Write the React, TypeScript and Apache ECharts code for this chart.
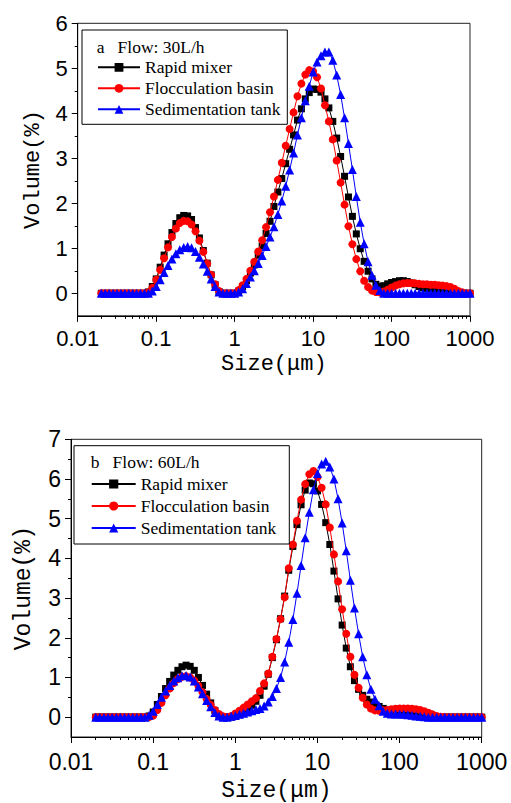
import React, { useEffect, useRef } from "react";
import * as echarts from "echarts";

// Particle size classes (µm)
const sizes = [
  0.02, 0.0224, 0.0252, 0.0283, 0.0317, 0.0356, 0.0399, 0.0448, 0.0502, 0.0564, 0.0632, 0.071, 0.0796, 0.0893,
  0.1002, 0.1125, 0.1262, 0.1416, 0.1589, 0.1783, 0.2, 0.2244, 0.2518, 0.2825, 0.317, 0.3557, 0.3991, 0.4477, 0.5024, 0.5637, 0.6325, 0.7096, 0.7962, 0.8934,
  1.002, 1.125, 1.262, 1.416, 1.589, 1.783, 2.0, 2.244, 2.518, 2.825, 3.17, 3.557, 3.991, 4.477, 5.024, 5.637, 6.325, 7.096, 7.962, 8.934,
  10.02, 11.25, 12.62, 14.16, 15.89, 17.83, 20.0, 22.44, 25.18, 28.25, 31.7, 35.57, 39.91, 44.77, 50.24, 56.37, 63.25, 70.96, 79.62, 89.34,
  100.2, 112.5, 126.2, 141.6, 158.9, 178.3, 200.0, 224.4, 251.8, 282.5, 317.0, 355.7, 399.1, 447.7, 502.4, 563.7, 632.5, 709.6, 796.2, 893.4,
  1002,
];

const seriesNames = ["Rapid mixer", "Flocculation basin", "Sedimentation tank"];

// Panel a: Flow 30 L/h
const aRapid = [
  0, 0, 0, 0, 0, 0, 0, 0, 0, 0, 0, 0, 0.03, 0.15,
  0.32, 0.58, 0.85, 1.1, 1.35, 1.55, 1.68, 1.73, 1.72, 1.64, 1.46, 1.23, 0.95, 0.67, 0.41, 0.19, 0.04, 0, 0, 0,
  0, 0.05, 0.15, 0.28, 0.45, 0.63, 0.85, 1.05, 1.33, 1.6, 1.93, 2.25, 2.55, 2.88, 3.2, 3.52, 3.85, 4.1, 4.32, 4.46,
  4.54, 4.53, 4.47, 4.32, 4.12, 3.82, 3.45, 3.04, 2.6, 2.14, 1.71, 1.32, 0.99, 0.71, 0.49, 0.32, 0.2, 0.15, 0.17, 0.21,
  0.24, 0.26, 0.28, 0.28, 0.26, 0.23, 0.19, 0.15, 0.12, 0.11, 0.1, 0.09, 0.08, 0.07, 0.06, 0.05, 0.03, 0.01, 0, 0,
  0,
];
const aFloc = [
  0, 0, 0, 0, 0, 0, 0, 0, 0, 0, 0, 0, 0.02, 0.12,
  0.3, 0.52, 0.78, 1.02, 1.25, 1.44, 1.56, 1.61, 1.6, 1.53, 1.38, 1.17, 0.92, 0.66, 0.41, 0.2, 0.05, 0, 0, 0,
  0, 0.07, 0.18, 0.32, 0.5, 0.7, 0.93, 1.18, 1.47, 1.8, 2.15, 2.52, 2.9, 3.28, 3.65, 4.02, 4.38, 4.66, 4.86, 4.96,
  4.93, 4.8, 4.55, 4.18, 3.82, 3.42, 2.95, 2.46, 1.97, 1.49, 1.09, 0.76, 0.49, 0.28, 0.14, 0.06, 0.03, 0.02, 0.04, 0.08,
  0.13, 0.17, 0.2, 0.22, 0.23, 0.23, 0.22, 0.21, 0.2, 0.2, 0.19, 0.19, 0.18, 0.17, 0.16, 0.14, 0.1, 0.05, 0.02, 0,
  0,
];
const aSed = [
  0, 0, 0, 0, 0, 0, 0, 0, 0, 0, 0, 0, 0, 0.05,
  0.15, 0.3, 0.46, 0.62, 0.76, 0.88, 0.97, 1.02, 1.04, 1.01, 0.93, 0.8, 0.65, 0.49, 0.32, 0.15, 0.03, 0, 0, 0,
  0, 0.03, 0.1, 0.22, 0.36, 0.5, 0.66, 0.84, 1.04, 1.25, 1.48, 1.75, 2.05, 2.38, 2.74, 3.12, 3.52, 3.9, 4.28, 4.6,
  4.92, 5.14, 5.28, 5.36, 5.36, 5.18, 4.85, 4.42, 3.9, 3.33, 2.75, 2.15, 1.58, 1.1, 0.7, 0.4, 0.18, 0.06, 0, 0,
  0, 0, 0, 0, 0, 0, 0, 0, 0, 0, 0, 0, 0, 0, 0, 0, 0, 0, 0, 0,
  0,
];

// Panel b: Flow 60 L/h
const bRapid = [
  0, 0, 0, 0, 0, 0, 0, 0, 0, 0, 0, 0, 0, 0.03,
  0.13, 0.32, 0.52, 0.72, 0.9, 1.06, 1.18, 1.27, 1.31, 1.28, 1.18, 1.0, 0.8, 0.58, 0.36, 0.17, 0.05, 0, 0, 0,
  0.02, 0.06, 0.12, 0.2, 0.3, 0.4, 0.55, 0.78, 1.08, 1.5, 1.95, 2.48, 3.05, 3.7, 4.3, 4.85, 5.35, 5.72, 5.9, 5.88,
  5.7, 5.36, 4.9, 4.35, 3.68, 2.98, 2.32, 1.74, 1.27, 0.92, 0.7, 0.55, 0.45, 0.38, 0.32, 0.27, 0.22, 0.18, 0.15, 0.12,
  0.1, 0.08, 0.06, 0.04, 0.02, 0.01, 0, 0, 0, 0, 0, 0, 0, 0, 0, 0, 0, 0, 0, 0,
  0,
];
const bFloc = [
  0, 0, 0, 0, 0, 0, 0, 0, 0, 0, 0, 0, 0, 0,
  0.04, 0.18, 0.36, 0.55, 0.72, 0.86, 0.96, 1.02, 1.03, 1.0, 0.92, 0.79, 0.63, 0.46, 0.31, 0.18, 0.08, 0.02, 0, 0.03,
  0.09, 0.16, 0.24, 0.32, 0.4, 0.48, 0.66, 0.85, 1.1, 1.52, 1.97, 2.47, 3.02, 3.75, 4.35, 4.95, 5.48, 5.87, 6.12, 6.2,
  6.05, 5.78, 5.36, 4.78, 4.1, 3.42, 2.72, 2.1, 1.52, 1.07, 0.74, 0.49, 0.32, 0.22, 0.17, 0.16, 0.17, 0.18, 0.2, 0.21,
  0.22, 0.22, 0.22, 0.21, 0.2, 0.18, 0.15, 0.11, 0.07, 0.03, 0.01, 0, 0, 0, 0, 0, 0, 0, 0, 0,
  0,
];
const bSed = [
  0, 0, 0, 0, 0, 0, 0, 0, 0, 0, 0, 0, 0, 0.05,
  0.15, 0.32, 0.5, 0.66, 0.8, 0.91, 0.99, 1.04, 1.05, 1.01, 0.91, 0.76, 0.59, 0.42, 0.26, 0.12, 0.03, 0, 0, 0.02,
  0.04, 0.07, 0.1, 0.13, 0.16, 0.19, 0.22, 0.28, 0.38, 0.52, 0.72, 1.0, 1.39, 1.89, 2.46, 3.12, 3.82, 4.52, 5.16, 5.73,
  6.14, 6.38, 6.45, 6.3, 6.0, 5.5, 4.89, 4.19, 3.45, 2.75, 2.1, 1.52, 1.07, 0.7, 0.45, 0.29, 0.15, 0.1, 0.08, 0.08,
  0.08, 0.07, 0.06, 0.05, 0.03, 0.02, 0.01, 0, 0, 0, 0, 0, 0, 0, 0, 0, 0, 0, 0, 0,
  0,
];

const majorX = [0.01, 0.1, 1, 10, 100, 1000];
const minorX = [
  0.02, 0.03, 0.04, 0.05, 0.06, 0.07, 0.08, 0.09,
  0.2, 0.3, 0.4, 0.5, 0.6, 0.7, 0.8, 0.9,
  2, 3, 4, 5, 6, 7, 8, 9,
  20, 30, 40, 50, 60, 70, 80, 90,
  200, 300, 400, 500, 600, 700, 800, 900,
];
const aMajorY = [0, 1, 2, 3, 4, 5, 6];
const aMinorY = [0.5, 1.5, 2.5, 3.5, 4.5, 5.5];
const bMajorY = [0, 1, 2, 3, 4, 5, 6, 7];
const bMinorY = [0.5, 1.5, 2.5, 3.5, 4.5, 5.5, 6.5];

const colors = ["#000000", "#ff0000", "#0000ff"];
const symbols = ["rect", "circle", "triangle"];
const symbolSizes = [7, 8, 9];

const LABEL_FONT = "'Liberation Sans', Arial, sans-serif";
const TITLE_FONT = "'Liberation Mono', 'DejaVu Sans Mono', monospace";
const LEGEND_FONT = "'Liberation Serif', 'Times New Roman', serif";

function fmtX(v: number) {
  return String(Number(v.toPrecision(6)));
}

function makeAxes(gridIndex: number, yMax: number, majorY: number[], minorY: number[], fs: number, xMargin: number, xNameGap: number, yNameGap: number, titleFs: number) {
  const xMain = {
    type: "log",
    logBase: 10,
    gridIndex,
    min: 0.01,
    max: 1000,
    position: "bottom",
    axisLine: { show: true, onZero: false, lineStyle: { color: "#000", width: 1 } },
    axisTick: { show: true, inside: false, length: 6, customValues: majorX, lineStyle: { color: "#000", width: 1 } },
    axisLabel: { show: true, customValues: majorX, formatter: (v: number) => fmtX(v), fontFamily: LABEL_FONT, fontSize: fs, color: "#000", margin: xMargin },
    splitLine: { show: false },
    name: "Size(μm)",
    nameLocation: "middle",
    nameGap: xNameGap,
    nameTextStyle: { fontFamily: TITLE_FONT, fontSize: titleFs, color: "#000" },
  };
  const xMinor = {
    type: "log",
    logBase: 10,
    gridIndex,
    min: 0.01,
    max: 1000,
    position: "bottom",
    offset: 0,
    axisLine: { show: false, onZero: false },
    axisTick: { show: true, inside: false, length: 3, customValues: minorX, lineStyle: { color: "#000", width: 1 } },
    axisLabel: { show: false },
    splitLine: { show: false },
  };
  const yMain = {
    type: "value",
    gridIndex,
    min: -0.5,
    max: yMax,
    position: "left",
    axisLine: { show: true, onZero: false, lineStyle: { color: "#000", width: 1 } },
    axisTick: { show: true, inside: false, length: 6, customValues: majorY, lineStyle: { color: "#000", width: 1 } },
    axisLabel: { show: true, customValues: majorY, fontFamily: LABEL_FONT, fontSize: fs, color: "#000", margin: 10 },
    splitLine: { show: false },
    name: "Volume(%)",
    nameLocation: "middle",
    nameGap: yNameGap,
    nameRotate: 90,
    nameTextStyle: { fontFamily: TITLE_FONT, fontSize: titleFs, color: "#000" },
  };
  const yMinor = {
    type: "value",
    gridIndex,
    min: -0.5,
    max: yMax,
    position: "left",
    offset: 0,
    axisLine: { show: false, onZero: false },
    axisTick: { show: true, inside: false, length: 3, customValues: minorY, lineStyle: { color: "#000", width: 1 } },
    axisLabel: { show: false },
    splitLine: { show: false },
  };
  return { xMain, xMinor, yMain, yMinor };
}

function makeSeries(xAxisIndex: number, yAxisIndex: number, values: number[][]) {
  return values.map((vals, i) => ({
    type: "line",
    name: seriesNames[i],
    xAxisIndex,
    yAxisIndex,
    data: sizes.map((s, j) => [s, vals[j]]),
    symbol: symbols[i],
    symbolSize: symbolSizes[i],
    showSymbol: true,
    showAllSymbol: true,
    itemStyle: { color: colors[i] },
    lineStyle: { color: colors[i], width: 1 },
    emphasis: { disabled: true },
    z: 2 + i,
  }));
}

export default function App() {
  const ref = useRef<HTMLDivElement>(null);
  useEffect(() => {
    if (!ref.current) return;
    const chart = echarts.init(ref.current, undefined, { renderer: "svg" });
    const a = makeAxes(0, 6, aMajorY, aMinorY, 22, 12, 38, 30, 22);
    const b = makeAxes(1, 7, bMajorY, bMinorY, 23, 13, 42, 36, 23);
    const legendBase = {
      data: seriesNames,
      orient: "vertical",
      itemGap: 0,
      padding: 0,
      selectedMode: false,
      textStyle: { fontFamily: LEGEND_FONT, fontSize: 17.5, color: "#000" },
    };
    const option: any = {
      animation: false,
      backgroundColor: "#fff",
      grid: [
        { left: 77.7, top: 23.3, width: 392.3, height: 292.5, show: true, borderColor: "#222", borderWidth: 1, containLabel: false },
        { left: 71, top: 439.3, width: 410.7, height: 304.3, show: true, borderColor: "#222", borderWidth: 1, containLabel: false },
      ],
      xAxis: [a.xMain, a.xMinor, b.xMain, b.xMinor],
      yAxis: [a.yMain, a.yMinor, b.yMain, b.yMinor],
      legend: [
        { ...legendBase, left: 97, top: 56.8, itemWidth: 42, itemHeight: 11, textStyle: { ...legendBase.textStyle, lineHeight: 21 } },
        { ...legendBase, left: 90.7, top: 473, itemWidth: 44, itemHeight: 11.5, textStyle: { ...legendBase.textStyle, lineHeight: 22 } },
      ],
      graphic: [
        { type: "rect", shape: { x: 82, y: 30, width: 205.3, height: 94.3 }, style: { fill: "none", stroke: "#000", lineWidth: 1 }, z: 10 },
        { type: "rect", shape: { x: 74, y: 445.7, width: 215.3, height: 98.3 }, style: { fill: "none", stroke: "#000", lineWidth: 1 }, z: 10 },
        { type: "text", x: 96.7, y: 46.7, style: { text: "a   Flow: 30L/h", fontFamily: LEGEND_FONT, fontSize: 17.5, fill: "#000", verticalAlign: "middle", align: "left" }, z: 10 },
        { type: "text", x: 90.7, y: 462.3, style: { text: "b   Flow: 60L/h", fontFamily: LEGEND_FONT, fontSize: 17.5, fill: "#000", verticalAlign: "middle", align: "left" }, z: 10 },
      ],
      series: [
        ...makeSeries(0, 0, [aRapid, aFloc, aSed]),
        ...makeSeries(2, 2, [bRapid, bFloc, bSed]),
      ],
    };
    chart.setOption(option);
    return () => chart.dispose();
  }, []);
  return <div ref={ref} style={{ position: "absolute", left: 0, top: 0, width: 511, height: 803 }} />;
}
